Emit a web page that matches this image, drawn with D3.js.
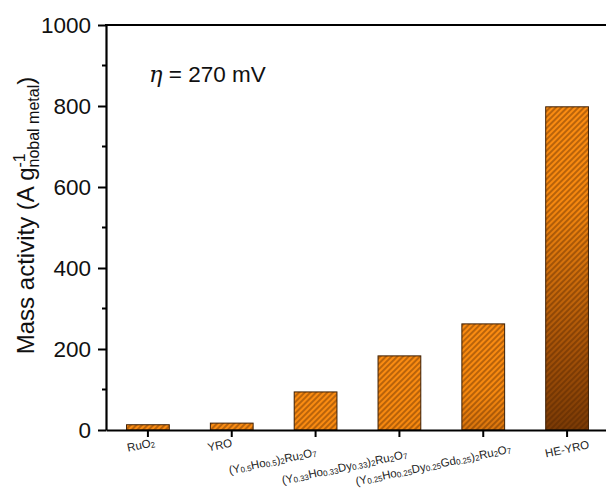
<!DOCTYPE html>
<html><head><meta charset="utf-8">
<script src="https://cdn.jsdelivr.net/npm/d3@7"></script>
<style>body{margin:0;background:#fff}svg{display:block}</style>
</head><body><svg id="c" width="606" height="492"></svg>
<script>
// ---- data ----
const categories = ["RuO_{2}", "YRO", "(Y_{0.5}Ho_{0.5})_{2}Ru_{2}O_{7}",
  "(Y_{0.33}Ho_{0.33}Dy_{0.33})_{2}Ru_{2}O_{7}",
  "(Y_{0.25}Ho_{0.25}Dy_{0.25}Gd_{0.25})_{2}Ru_{2}O_{7}", "HE-YRO"];
const massActivity = [13, 17, 94, 183, 262, 798];
const yTicks = [0, 200, 400, 600, 800, 1000];
const yMinorTicks = [100, 300, 500, 700, 900];

// ---- layout ----
const L = 106, T = 25, R = 609, B = 430;
const labelShift = [[-7, 15], [-12, 15], [-43, 31], [-55, 37], [-50, 35], [0, 19]];
const FONT = "'Liberation Sans', Arial, sans-serif";

const svg = d3.select("#c").style("font-family", FONT);
const defs = svg.append("defs");

const x = d3.scaleBand().domain(categories).range([L, R]).paddingInner(0.49).paddingOuter(0.245);
const y = d3.scaleLinear().domain([0, 1000]).range([B, T]);

// hatch pattern
defs.append("pattern").attr("id", "hatch").attr("patternUnits", "userSpaceOnUse")
  .attr("width", 4).attr("height", 4).attr("patternTransform", "rotate(45)")
  .append("line").attr("x1", 1).attr("y1", 0).attr("x2", 1).attr("y2", 4)
  .attr("stroke", "rgba(75,32,0,0.62)").attr("stroke-width", 1.2);

const bars = svg.append("g");
categories.forEach((c, i) => {
  const top = y(massActivity[i]);
  const h = B - top;
  const len = Math.max(h, 230);
  const g = defs.append("linearGradient").attr("id", "grad" + i)
    .attr("gradientUnits", "userSpaceOnUse")
    .attr("x1", 0).attr("x2", 0).attr("y1", top).attr("y2", top + len);
  [[0, "#fb8c12"], [0.3, "#f6880f"], [0.75, "#a55208"], [1, "#7a3a05"]].forEach(s =>
    g.append("stop").attr("offset", s[0]).attr("stop-color", s[1]));
});
bars.selectAll("rect.f").data(categories).join("rect").attr("class", "f")
  .attr("x", d => x(d)).attr("width", x.bandwidth())
  .attr("y", (d, i) => y(massActivity[i])).attr("height", (d, i) => B - y(massActivity[i]))
  .attr("fill", (d, i) => `url(#grad${i})`);
bars.selectAll("rect.h").data(categories).join("rect").attr("class", "h")
  .attr("x", d => x(d)).attr("width", x.bandwidth())
  .attr("y", (d, i) => y(massActivity[i])).attr("height", (d, i) => B - y(massActivity[i]))
  .attr("fill", "url(#hatch)").attr("stroke", "#3e2006").attr("stroke-width", 1);

// y axis
const yAxis = svg.append("g").attr("transform", `translate(${L},0)`)
  .call(d3.axisLeft(y).tickValues(yTicks).tickSize(8).tickSizeOuter(0).tickPadding(7)
    .tickFormat(d3.format("d")));
yAxis.select(".domain").attr("stroke-width", 2.2).attr("stroke", "#000");
yAxis.selectAll(".tick line").attr("stroke-width", 2).attr("stroke", "#000");
yAxis.selectAll(".tick text").attr("font-size", 22.5).attr("font-family", FONT).attr("fill", "#111");
svg.append("g").selectAll("line").data(yMinorTicks).join("line")
  .attr("x1", L - 4).attr("x2", L).attr("y1", d => y(d)).attr("y2", d => y(d))
  .attr("stroke", "#000").attr("stroke-width", 2);

// x axis
const xAxis = svg.append("g").attr("transform", `translate(0,${B})`)
  .call(d3.axisBottom(x).tickSize(7).tickSizeOuter(0).tickFormat(""));
xAxis.select(".domain").attr("stroke-width", 2.2).attr("stroke", "#000");
xAxis.selectAll(".tick line").attr("stroke-width", 2).attr("stroke", "#000");

// top frame line
svg.append("line").attr("x1", L - 1).attr("x2", R).attr("y1", T).attr("y2", T)
  .attr("stroke", "#000").attr("stroke-width", 2.2);

// x tick labels with subscripts
function addRich(textSel, str, baseSize, subSize) {
  const re = /([^_]+)|_\{([^}]*)\}/g;
  let m;
  while ((m = re.exec(str)) !== null) {
    if (m[1] !== undefined) textSel.append("tspan").attr("font-size", baseSize).text(m[1]);
    else textSel.append("tspan").attr("font-size", subSize).attr("baseline-shift", "-30%").text(m[2]);
  }
}
categories.forEach((c, i) => {
  const cx = x(c) + x.bandwidth() / 2 + labelShift[i][0];
  const cy = B + labelShift[i][1];
  const t = svg.append("text").attr("text-anchor", "middle").attr("dominant-baseline", "central")
    .attr("fill", "#222").attr("transform", `translate(${cx},${cy}) rotate(-12)`);
  addRich(t, c, 11.5, 8);
});

// y axis title
const yt = svg.append("text").attr("text-anchor", "middle").attr("fill", "#111")
  .attr("transform", `translate(34,${(T + B) / 2 - 12}) rotate(-90)`);
yt.append("tspan").attr("font-size", 24).text("Mass activity (A g");
const sup = yt.append("tspan").attr("font-size", 16).attr("baseline-shift", "55%").text("-1");
const supLen = sup.node().getComputedTextLength();
yt.append("tspan").attr("font-size", 16).attr("dx", -supLen).attr("baseline-shift", "-32%").text("nobal metal");
yt.append("tspan").attr("font-size", 24).text(")");

// annotation
const an = svg.append("text").attr("x", 149).attr("y", 82).attr("font-size", 22.5).attr("fill", "#111");
an.append("tspan").attr("font-style", "italic").attr("font-family", "'DejaVu Serif', serif").text("η");
an.append("tspan").text(" = 270 mV");
</script></body></html>
